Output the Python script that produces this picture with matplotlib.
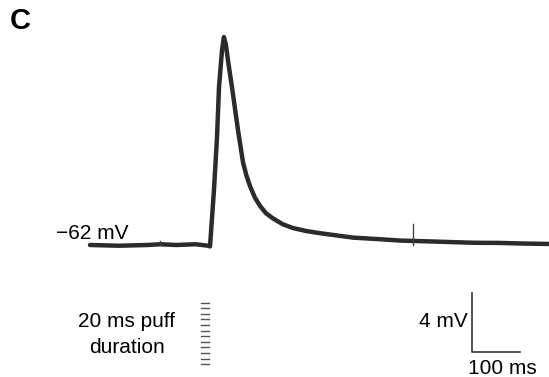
import matplotlib.pyplot as plt

# membrane potential trace (ms, mV)
trace_t = [0, 60, 120, 146, 180, 220, 246, 250, 258, 264.6, 268.75, 275, 279,
           283, 287.5, 295.8, 308.3, 318.75, 326, 333.3, 343.75, 354.2, 366.7,
           381.25, 402, 422.9, 450, 479.2, 548, 600, 646, 700, 750, 800, 854,
           900, 956]
trace_mv = [-62.0, -62.05, -62.0, -61.95, -62.0, -61.95, -62.05, -62.1, -58.4,
            -54.7, -51.3, -48.8, -47.9, -48.4, -49.5, -51.3, -54.2, -56.4,
            -57.3, -58.0, -58.8, -59.35, -59.85, -60.2, -60.6, -60.85, -61.05,
            -61.2, -61.5, -61.6, -61.7, -61.75, -61.8, -61.85, -61.86, -61.9,
            -61.93]

# small artefacts on the baseline
spike_t = [146, 673]
spike_top = [-61.7, -60.6]

# puff marks
puff_t = 240
puff_mv = [-65.9, -66.28, -66.66, -67.04, -67.42, -67.8, -68.18, -68.56,
           -68.94, -69.32, -69.7, -70.08]

baseline_label = '\u221262 mV'
bar_mv = 4
bar_ms = 100


def main():
    fig = plt.figure(figsize=(5.49, 3.77), dpi=100)
    ax = fig.add_axes([0, 0, 1, 1])
    ax.set_xlim(-187.5, 956.25)
    ax.set_ylim(-70.95, -45.39)
    ax.axis('off')
    plt.rcParams['font.family'] = ['Liberation Sans', 'DejaVu Sans']

    ax.plot(trace_t, trace_mv, color='#2b2b2b', lw=3.2,
            solid_joinstyle='round', solid_capstyle='round')
    for t, top in zip(spike_t, spike_top):
        ax.plot([t, t], [-62.0, top], color='#444444', lw=1)

    for v in puff_mv:
        ax.plot([puff_t - 8, puff_t + 8], [v, v], color='#555555', lw=1)

    # scale bars
    x0, y0 = 796, -69.25
    ax.plot([x0, x0, x0 + bar_ms], [y0 + bar_mv, y0, y0], color='#333333', lw=1.2)

    ax.text(4, -61.2, baseline_label, fontsize=15, ha='center', va='center')
    ax.text(77, -67.22, '20 ms puff', fontsize=15, ha='center', va='center')
    ax.text(77, -68.98, 'duration', fontsize=15, ha='center', va='center')
    ax.text(787.5, -67.22, '%d mV' % bar_mv, fontsize=15, ha='right', va='center')
    ax.text(860, -70.34, '%d ms' % bar_ms, fontsize=15, ha='center', va='center')
    fig.text(0.018, 0.944, 'C', fontsize=21, fontweight='bold', va='center')

    fig.savefig('out.png', dpi=100)


if __name__ == '__main__':
    main()
